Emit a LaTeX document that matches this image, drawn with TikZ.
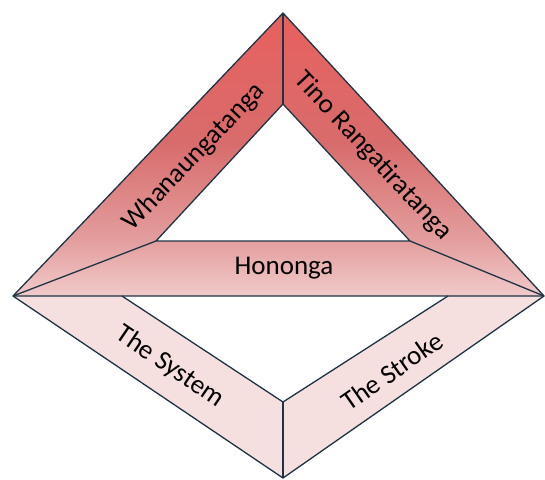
\documentclass[tikz,border=0pt]{standalone}
\usepackage{fontspec}
\setmainfont{Carlito}
\definecolor{lineC}{HTML}{1E3444}
\definecolor{topC}{HTML}{E8605E}
\definecolor{midC}{HTML}{D86C6C}
\definecolor{lmC}{HTML}{E39D9D}
\definecolor{botC}{HTML}{F2CACA}
\definecolor{lowC}{HTML}{F5DFDF}
\pgfdeclareverticalshading{redgrad}{100bp}{color(0bp)=(botC); color(25bp)=(botC); color(35bp)=(lmC); color(52bp)=(midC); color(75bp)=(topC); color(100bp)=(topC)}
\begin{document}
\begin{tikzpicture}[x=1pt,y=-1pt,
  edge/.style={draw=lineC, line width=1.3pt, line join=round},
  lab/.style={font=\fontsize{27}{31}\selectfont, text=black, inner sep=0pt}]
\useasboundingbox (0,0) rectangle (545,479);
% vertices
\coordinate (T) at (283,13);
\coordinate (L) at (13,296);
\coordinate (R) at (544,296);
\coordinate (IT) at (283,104);
\coordinate (ILt) at (156,241);
\coordinate (IRt) at (410,241);
\coordinate (B) at (283,478);
\coordinate (IB) at (283,402);
\coordinate (ILb) at (122,296);
\coordinate (IRb) at (448,296);
% bottom rhombus band
\fill[lowC] (L) -- (B) -- (R) -- (IRb) -- (IB) -- (ILb) -- cycle;
% top triangle band with gradient
\begin{scope}
  \clip (T) -- (L) -- (R) -- cycle;
  \shade[shading=redgrad] (13,13) rectangle (544,296);
\end{scope}
\fill[white] (IT) -- (ILt) -- (IRt) -- cycle;
% outlines
\draw[edge] (T) -- (L) -- (R) -- cycle;
\draw[edge] (IT) -- (ILt) -- (IRt) -- cycle;
\draw[edge] (T) -- (IT);
\draw[edge] (L) -- (ILt);
\draw[edge] (R) -- (IRt);
\draw[edge] (L) -- (B) -- (R);
\draw[edge] (ILb) -- (IB) -- (IRb);
\draw[edge] (IB) -- (B);
% labels
\node[lab, rotate=46.3] (w) at (194,157) {Whanaungatanga};
\node[lab, rotate=-47.2] (t) at (373,156) {Tino Rangatiratanga};
\node[lab] (h) at (284,268) {Hononga};
\node[lab, rotate=-34.1] (s) at (170,367) {The System};
\node[lab, rotate=34.9] (k) at (392,371) {The Stroke};
\end{tikzpicture}
\end{document}
